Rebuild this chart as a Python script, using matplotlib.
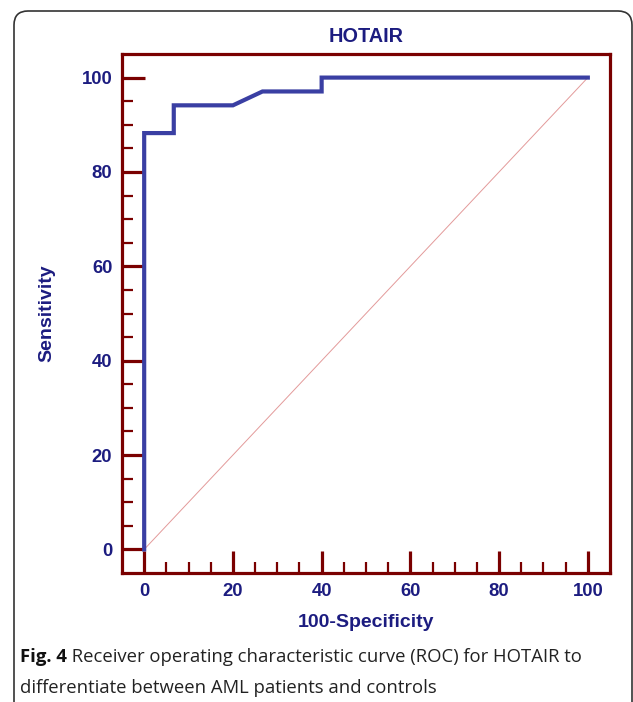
import matplotlib
matplotlib.use("Agg")
import matplotlib.pyplot as plt
from matplotlib.patches import FancyBboxPatch
from matplotlib.transforms import IdentityTransform
import numpy as np

# ---- data ----
title = "HOTAIR"
x_label = "100-Specificity"
y_label = "Sensitivity"
fpr = [0, 0, 6.67, 6.67, 20, 26.67, 40, 40, 100]            # 100-Specificity
tpr = [0, 88.24, 88.24, 94.12, 94.12, 97.06, 97.06, 100, 100]  # Sensitivity
ref_x = [0, 100]
ref_y = [0, 100]
major_ticks = [0, 20, 40, 60, 80, 100]
minor_ticks = [v for v in range(0, 101, 5) if v % 20 != 0]
caption_bold = "Fig. 4"
caption_rest = " Receiver operating characteristic curve (ROC) for HOTAIR to"
caption_line2 = "differentiate between AML patients and controls"

W, H, DPI = 633, 702, 100
navy = "#1c1c80"
curve_col = "#3a3fa3"
frame_col = "#7a0000"
cfont = "Liberation Sans"

fig = plt.figure(figsize=(W / DPI, H / DPI), dpi=DPI)
ax = fig.add_axes([122 / W, 1 - 573 / H, (610 - 122) / W, (573 - 54) / H])

ax.plot(ref_x, ref_y, color="#e39a9a", lw=0.7, zorder=2)
ax.plot(fpr, tpr, color=curve_col, lw=3.0, solid_joinstyle="miter", zorder=3)

ax.set_xlim(-5, 105)
ax.set_ylim(-5, 105)
ax.set_xticks(major_ticks)
ax.set_yticks(major_ticks)
ax.set_xticks(minor_ticks, minor=True)
ax.set_yticks(minor_ticks, minor=True)
ax.tick_params(which="major", direction="in", length=16.2, width=2.3,
               color=frame_col, labelcolor=navy, labelsize=13.3, pad=7)
ax.tick_params(which="minor", direction="in", length=8, width=1.6, color=frame_col)
for lab in ax.get_xticklabels() + ax.get_yticklabels():
    lab.set_fontweight("bold")
    lab.set_family(cfont)
for sp in ax.spines.values():
    sp.set_color(frame_col)
    sp.set_linewidth(2.3)

ax.set_title(title, color=navy, fontsize=14.3, fontweight="bold",
             family=cfont, pad=9)
ax.set_xlabel(x_label, color=navy, fontsize=14, fontweight="bold",
              family=cfont, labelpad=10)
ax.set_ylabel(y_label, color=navy, fontsize=14, fontweight="bold",
              family=cfont, labelpad=19)

# outer rounded border
border = FancyBboxPatch((14, -30), 618, H - 11 + 30,
                        boxstyle="round,pad=0,rounding_size=14",
                        transform=IdentityTransform(), fill=False,
                        edgecolor="#333333", lw=1.2)
fig.patches.append(border)

# caption
cs = 13.3
y1 = 1 - 662 / H
y2 = 1 - 693 / H
t1 = fig.text(20 / W, y1, caption_bold, fontsize=cs, fontweight="bold",
              family="Open Sans", color="#111111", va="baseline")
fig.canvas.draw()
bb = t1.get_window_extent()
fig.text(bb.x1 / W, y1, caption_rest, fontsize=cs, family="Open Sans",
         color="#222222", va="baseline")
fig.text(20 / W, y2, caption_line2, fontsize=cs, family="Open Sans",
         color="#222222", va="baseline")

fig.savefig("out.png", dpi=DPI)
